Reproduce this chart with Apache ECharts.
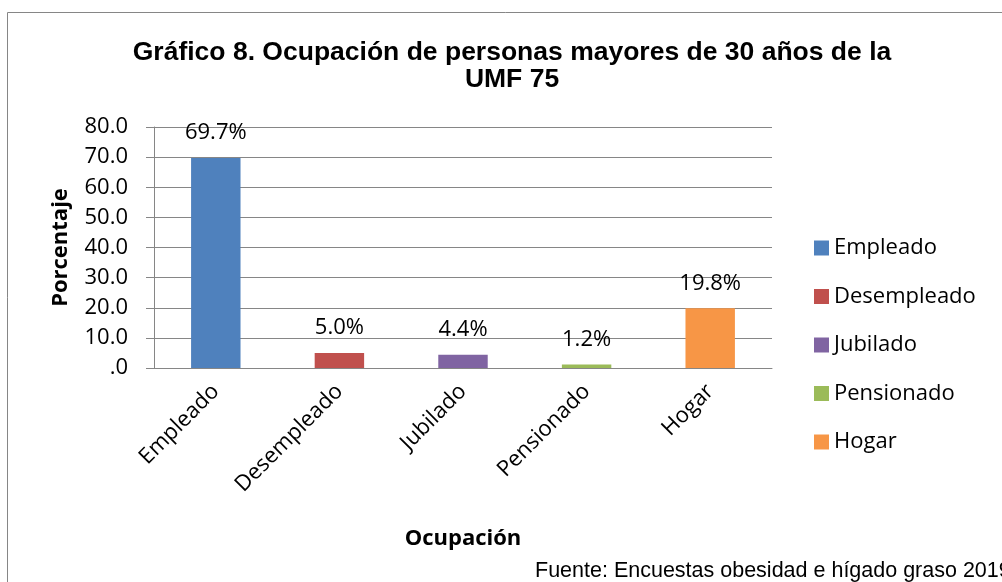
<!DOCTYPE html>
<html>
<head>
<meta charset="utf-8">
<script src="https://cdn.jsdelivr.net/npm/echarts@6/dist/echarts.min.js"></script>
<style>html,body{margin:0;padding:0;background:#fff}#c{width:1002px;height:582px}</style>
</head>
<body>
<div id="c"></div>
<script>
var categories = ['Empleado', 'Desempleado', 'Jubilado', 'Pensionado', 'Hogar'];
var values = [69.7, 5.0, 4.4, 1.2, 19.8];
var colors = ['#4F81BD', '#C0504D', '#8064A2', '#9BBB59', '#F79646'];
var yTicks = [0, 10, 20, 30, 40, 50, 60, 70, 80];

var labelFont = '"Open Sans", Lato, sans-serif';
var series = categories.map(function (name, i) {
  return {
    name: name,
    type: 'bar',
    stack: 'all',
    barWidth: '40%',
    itemStyle: { color: colors[i] },
    label: {
      show: true, position: 'top', distance: 14,
      color: '#000', fontFamily: labelFont, fontSize: 22,
      formatter: function (p) { return p.value.toFixed(1) + '%'; }
    },
    data: categories.map(function (c, j) { return j === i ? values[i] : '-'; })
  };
});

var chart = echarts.init(document.getElementById('c'));
chart.setOption({
  animation: false,
  title: {
    text: 'Gráfico 8. Ocupación de personas mayores de 30 años de la\nUMF 75',
    left: 507, top: 34, textAlign: 'center',
    textStyle: { fontFamily: 'Liberation Sans, Arial, sans-serif', fontWeight: 'bold', fontSize: 26.5, lineHeight: 27, color: '#000' }
  },
  legend: {
    orient: 'vertical', left: 814, top: 235, padding: 0,
    itemWidth: 15, itemHeight: 15, itemGap: 22.5,
    icon: 'rect',
    textStyle: { fontFamily: labelFont, fontSize: 22, lineHeight: 26, color: '#000' },
    data: categories
  },
  grid: { left: 154, right: 230, top: 127, bottom: 214 },
  xAxis: {
    type: 'category', data: categories,
    axisLine: { lineStyle: { color: '#868686', width: 1 } },
    axisTick: { show: false },
    axisLabel: { rotate: 45, margin: 20, color: '#000', fontFamily: labelFont, fontSize: 22 },
    name: 'Ocupación', nameLocation: 'middle', nameGap: 160,
    nameTextStyle: { fontFamily: labelFont, fontWeight: 'bold', fontSize: 22, color: '#000' }
  },
  yAxis: {
    type: 'value', min: 0, max: 80, interval: 10,
    axisLine: { show: true, lineStyle: { color: '#868686', width: 1 } },
    axisTick: { show: true, length: 8, lineStyle: { color: '#868686' } },
    splitLine: { lineStyle: { color: '#868686', width: 1 } },
    axisLabel: {
      color: '#000', fontFamily: labelFont, fontSize: 22, margin: 26,
      formatter: function (v) { return v === 0 ? '.0' : v.toFixed(1); }
    },
    name: 'Porcentaje', nameLocation: 'middle', nameGap: 82,
    nameTextStyle: { fontFamily: labelFont, fontWeight: 'bold', fontSize: 22, color: '#000' }
  },
  graphic: [
    { type: 'rect', shape: { x: 7.5, y: 12.5, width: 1100, height: 700 }, style: { fill: 'none', stroke: '#868686', lineWidth: 1 }, silent: true, z: -1 },
    { type: 'text', left: 535, top: 560, style: { text: 'Fuente: Encuestas obesidad e hígado graso 2019', font: '21.5px "Liberation Sans", Arial, sans-serif', fill: '#000' } }
  ],
  series: series
});
</script>
</body>
</html>
